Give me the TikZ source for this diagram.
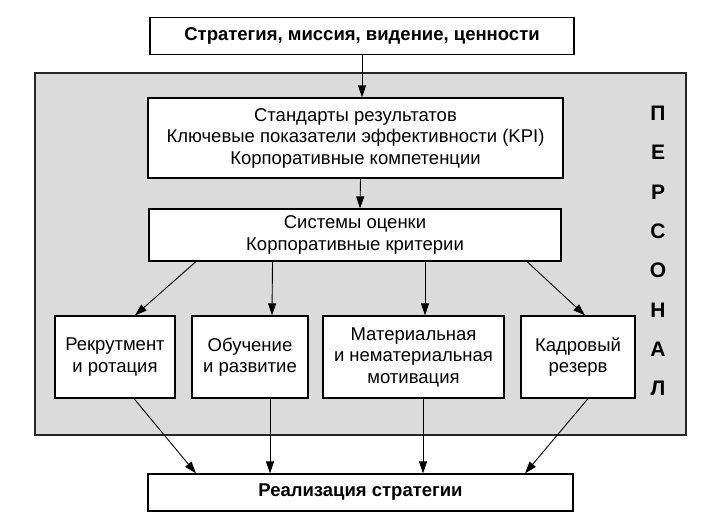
\documentclass[tikz,border=0pt]{standalone}
\usepackage{fontspec}
\setmainfont{Liberation Sans}
\usetikzlibrary{arrows.meta}
\begin{document}
\begin{tikzpicture}[x=1pt,y=-1pt,
  box/.style={draw=black,line width=1.2pt,fill=white,align=center,inner sep=0pt,font=\fontsize{18.5}{21.5}\selectfont},
  boldbox/.style={box,font=\fontsize{18.5}{21.5}\selectfont\bfseries},
  arr/.style={-{Triangle[length=12pt,width=8pt]},line width=0.9pt},
  region/.style={draw=black!85,line width=1.2pt,fill=black!14,inner sep=0pt}]
\useasboundingbox (0,0) rectangle (703,529);
\node[region,minimum width=651pt,minimum height=362pt] (pers) at (360.5,254) {};
\node[font=\fontsize{21}{39.3}\selectfont\bfseries,align=center,inner sep=0pt] (letters) at (658,251) {П\\Е\\Р\\С\\О\\Н\\А\\Л};
\node[boldbox,minimum width=424pt,minimum height=37pt] (top) at (362,36) {Стратегия, миссия, видение, ценности};
\node[box,minimum width=415pt,minimum height=80pt] (std) at (355.5,138) {Стандарты результатов\\Ключевые показатели эффективности (KPI)\\Корпоративные компетенции};
\node[box,minimum width=412pt,minimum height=52pt] (sys) at (355,235) {Системы оценки\\Корпоративные критерии};
\node[box,minimum width=120pt,minimum height=82pt] (b1) at (115,357) {Рекрутмент\\и ротация};
\node[box,minimum width=116pt,minimum height=82pt] (b2) at (250,357) {Обучение\\и развитие};
\node[box,minimum width=181pt,minimum height=82pt] (b3) at (413.5,357) {Материальная\\и нематериальная\\мотивация};
\node[box,minimum width=114pt,minimum height=82pt] (b4) at (578,357) {Кадровый\\резерв};
\node[boldbox,minimum width=425pt,minimum height=37pt] (bot) at (360.5,492.5) {Реализация стратегии};
\draw[arr] (top.south) -- (top.south |- std.north);
\draw[arr] ([xshift=5pt]std.south) -- ([xshift=5pt]sys.north);
\draw[arr] ([xshift=-159pt]sys.south) -- ([xshift=20pt]b1.north);
\draw[arr] ([xshift=-82.5pt]sys.south) -- ([xshift=22pt]b2.north);
\draw[arr] ([xshift=70pt]sys.south) -- ([xshift=11.5pt]b3.north);
\draw[arr] ([xshift=172pt]sys.south) -- ([xshift=7pt]b4.north);
\draw[arr] ([xshift=19pt]b1.south) -- ([xshift=-164.5pt]bot.north);
\draw[arr] ([xshift=20pt]b2.south) -- ([xshift=-90.5pt]bot.north);
\draw[arr] ([xshift=9.5pt]b3.south) -- ([xshift=62.5pt]bot.north);
\draw[arr] ([xshift=10pt]b4.south) -- ([xshift=164.5pt]bot.north);
\end{tikzpicture}
\end{document}
